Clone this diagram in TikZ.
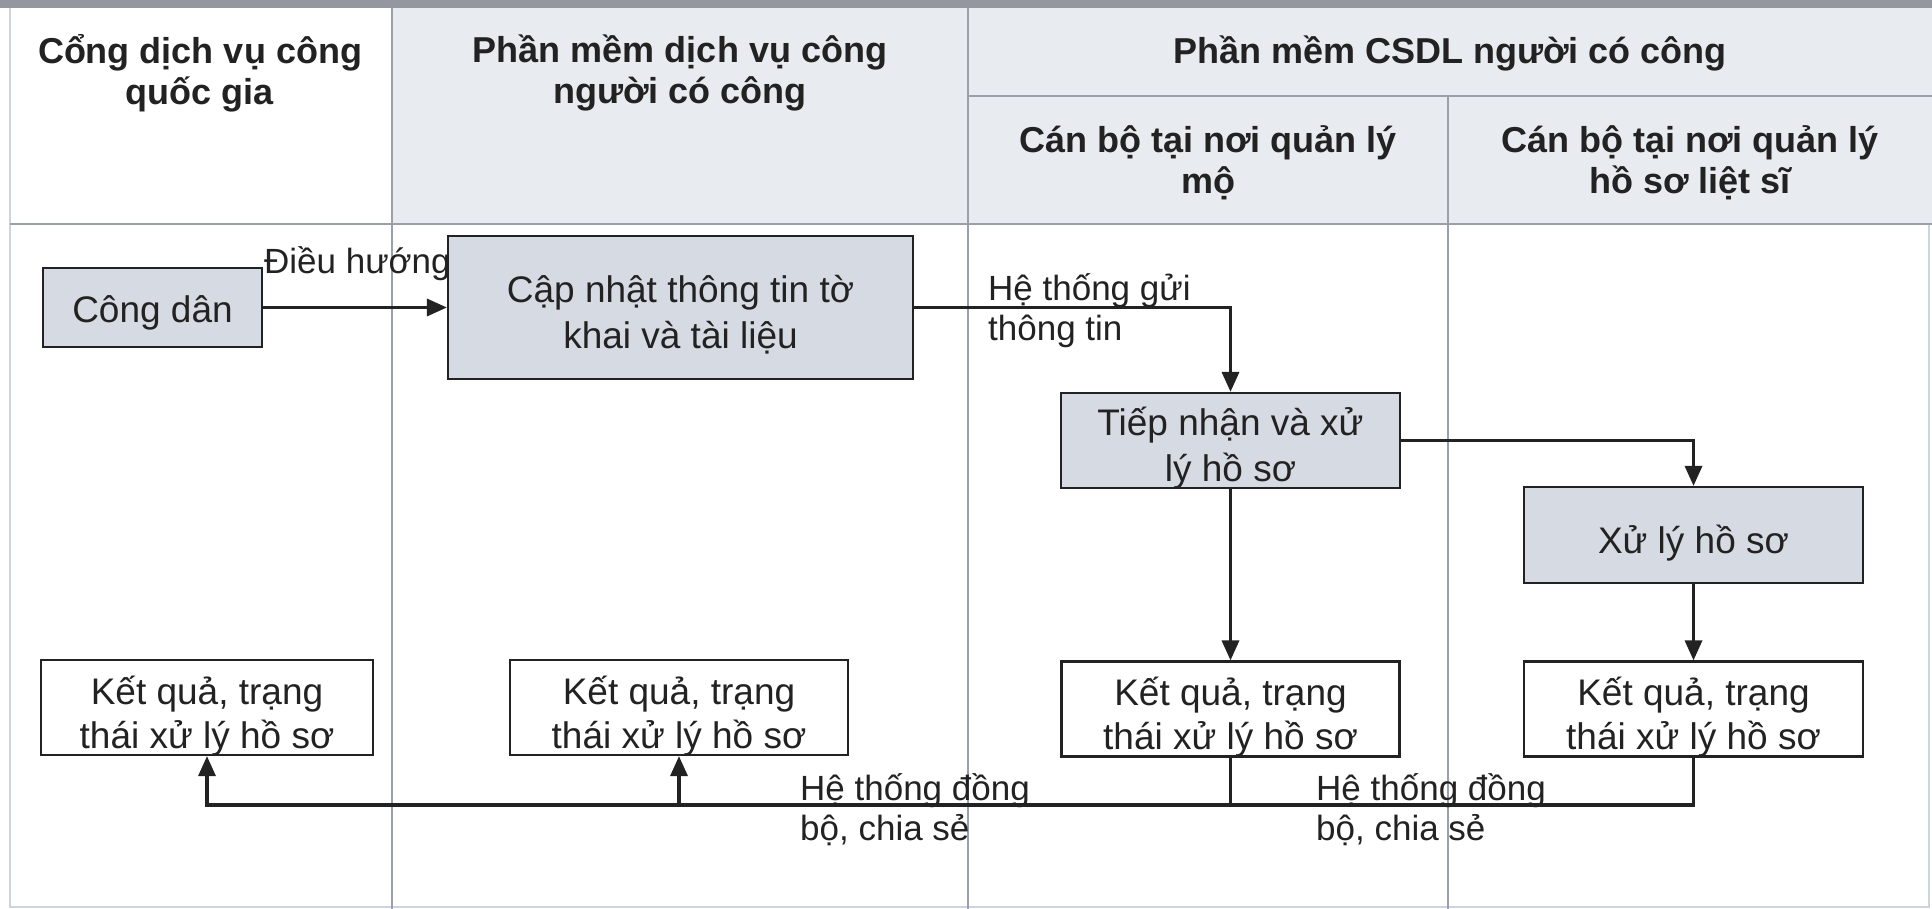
\documentclass[tikz,border=0pt]{standalone}
\usepackage{fontspec}
\setmainfont{Liberation Sans}
\usetikzlibrary{arrows.meta,calc}
\definecolor{boxfill}{HTML}{D6DAE2}
\definecolor{headfill}{HTML}{E8EBF0}
\definecolor{bandgray}{HTML}{9497A0}
\definecolor{laneline}{HTML}{9AA0AA}
\definecolor{framecol}{HTML}{CCD4DE}
\definecolor{ink}{HTML}{222222}
\begin{document}
\begin{tikzpicture}[x=1pt,y=-1pt,
  proc/.style={draw=ink, line width=2.2pt, fill=boxfill, align=center, inner sep=0pt, font=\fontsize{37}{46}\selectfont, text=ink, text depth=0pt},
  one/.style={text height=37pt},
  two/.style={text height=81pt},
  result/.style={proc, fill=white, font=\fontsize{37}{44}\selectfont, text height=81pt},
  head/.style={align=center, inner sep=0pt, font=\bfseries\fontsize{36}{41}\selectfont, text=ink},
  lbl/.style={align=left, inner sep=0pt, font=\fontsize{35}{40}\selectfont, text=ink},
  conn/.style={draw=ink, line width=3.4pt},
  arr/.style={conn, -{Triangle[length=20pt,width=17pt]}},
]
\useasboundingbox (0,0) rectangle (1932,909);
% background and lanes
\fill[white] (0,0) rectangle (1932,909);
\fill[headfill] (392,8) rectangle (1932,224);
\fill[bandgray] (0,0) rectangle (1932,8);
\draw[framecol, line width=1.5pt] (10,8) -- (10,907) -- (1929,907) -- (1929,224);
\draw[laneline, line width=1.2pt] (10,224) -- (1932,224);
\draw[laneline, line width=1.2pt] (968,96) -- (1932,96);
\draw[laneline, line width=1.2pt] (392,8) -- (392,909);
\draw[laneline, line width=1.2pt] (968,8) -- (968,909);
\draw[laneline, line width=1.2pt] (1448,96) -- (1448,909);
% headers
\node[head] (h1) at (200,73) {Cổng dịch vụ công\\quốc gia};
\node[head] (h2) at (680,73) {Phần mềm dịch vụ công\\người có công};
\node[head] (h3) at (1450,53) {Phần mềm CSDL người có công};
\node[head] (h3a) at (1208,163) {Cán bộ tại nơi quản lý\\mộ};
\node[head] (h4a) at (1690,163) {Cán bộ tại nơi quản lý\\hồ sơ liệt sĩ};
% process boxes
\node[proc, text height=29pt, minimum width=219pt, minimum height=79pt] (cd) at (152.5,307.5) {Công dân};
\node[proc, two, minimum width=465pt, minimum height=143pt] (cn) at (680.5,307.5) {Cập nhật thông tin tờ\\khai và tài liệu};
\node[proc, two, minimum width=339pt, minimum height=95pt] (tn) at (1230.5,440.5) {Tiếp nhận và xử\\lý hồ sơ};
\node[proc, one, minimum width=339pt, minimum height=96pt] (xl) at (1693.5,535) {Xử lý hồ sơ};
\node[result, minimum width=332pt, minimum height=95pt] (k1) at (207,707.5) {Kết quả, trạng\\thái xử lý hồ sơ};
\node[result, minimum width=338pt, minimum height=95pt] (k2) at (679,707.5) {Kết quả, trạng\\thái xử lý hồ sơ};
\node[result, minimum width=338pt, minimum height=95pt] (k3) at (1230.5,709) {Kết quả, trạng\\thái xử lý hồ sơ};
\node[result, minimum width=339pt, minimum height=95pt] (k4) at (1693.5,709) {Kết quả, trạng\\thái xử lý hồ sơ};
\coordinate (bus) at (0,805);
% connectors
\draw[arr] (cd.east) -- (cn.west);
\draw[arr] (cn.east) -| (tn.north);
\draw[arr] (tn.east) -| (xl.north);
\draw[arr] (tn.south) -- (k3.north);
\draw[arr] (xl.south) -- (k4.north);
\draw[arr] (k4.south) -- (k4.south |- bus) -- (k1.south |- bus) -- (k1.south);
\draw[conn] (k3.south) -- (k3.south |- bus);
\draw[arr] (k2.south |- bus) -- (k2.south);
% labels
\node[lbl, anchor=base west] (l1) at (264,274) {Điều hướng};
\node[lbl, anchor=base west] (l2) at (988,340) {Hệ thống gửi\\thông tin};
\node[lbl, anchor=base west] (l3) at (800,840) {Hệ thống đồng\\bộ, chia sẻ};
\node[lbl, anchor=base west] (l4) at (1316,840) {Hệ thống đồng\\bộ, chia sẻ};
\end{tikzpicture}
\end{document}
